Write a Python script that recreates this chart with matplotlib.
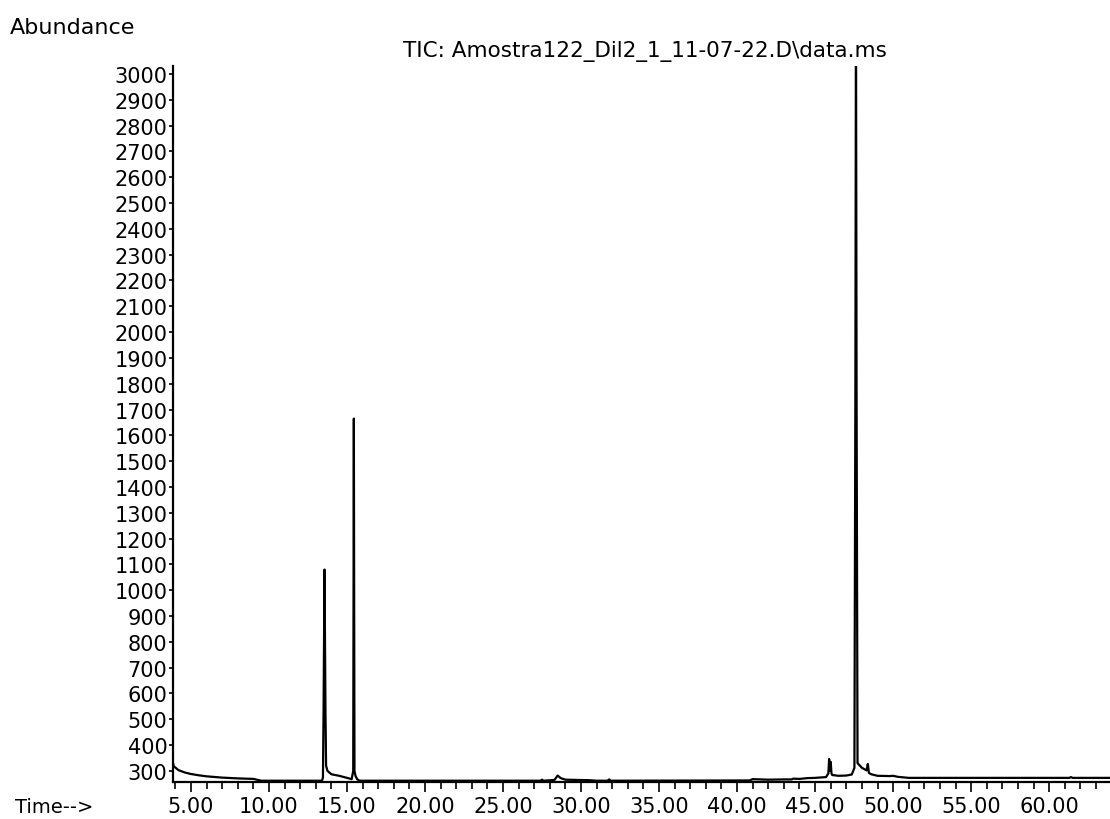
import matplotlib.pyplot as plt
from matplotlib.ticker import MultipleLocator

plt.rcParams['font.family'] = ['DejaVu Sans']

# retention time (min) and abundance
times = [3.85, 3.9, 4.2, 4.6, 5.0, 5.5, 6.0, 7.0, 8.0, 9.0, 9.5, 10.0,
         13.40, 13.46, 13.50, 13.56, 13.62, 13.66, 13.75, 14.0, 14.5, 15.0, 15.30,
         15.40, 15.44, 15.48, 15.55, 15.65, 15.80,
         27.4, 27.5, 27.6, 28.3, 28.5, 28.7, 29.0, 30.5, 31.0, 31.7, 31.8, 31.9, 32.0,
         40.8, 41.0, 42.0, 43.0, 43.5, 43.6, 44.0, 44.5, 45.0, 45.7,
         45.85, 45.90, 45.95, 46.00, 46.05, 46.10, 46.5, 47.0, 47.35, 47.52,
         47.58, 47.62, 47.66, 47.72, 48.0, 48.30, 48.38, 48.45, 48.6, 49.0, 49.8,
         50.0, 50.3, 51.0, 61.3, 61.4, 61.5, 63.9]
abundance = [330, 318, 303, 294, 288, 283, 279, 274, 271, 269, 262, 262,
             262, 275, 540, 1080, 540, 320, 300, 287, 281, 273, 268,
             300, 1665, 300, 280, 268, 262,
             262, 266, 262, 265, 282, 272, 266, 264, 262, 262, 267, 262, 262,
             263, 268, 266, 267, 267, 270, 269, 272, 273, 276,
             290, 346, 300, 335, 290, 284, 281, 282, 286, 312,
             1720, 3300, 1720, 330, 312, 302, 327, 292, 287, 281, 280,
             281, 277, 273, 273, 276, 273, 273]

title = "TIC: Amostra122_Dil2_1_11-07-22.D\\data.ms"
y_ticks = list(range(300, 3001, 100))
x_ticks = [5, 10, 15, 20, 25, 30, 35, 40, 45, 50, 55, 60]

fig = plt.figure(figsize=(11.1, 8.2), dpi=100)
ax = fig.add_axes([173 / 1110, 1 - 783 / 820, 1 - 173 / 1110, (783 - 67) / 820])

ax.plot(times, abundance, color='black', lw=1.6)

ax.set_xlim(3.85, 63.9)
ax.set_ylim(257, 3031)

ax.xaxis.set_minor_locator(MultipleLocator(1))
ax.set_xticks(x_ticks)
ax.set_xticklabels(["%.2f" % v for v in x_ticks])
ax.set_yticks(y_ticks)
ax.set_yticklabels([str(v) for v in y_ticks])

ax.tick_params(axis='x', which='major', length=7, width=1.2, pad=3, labelsize=15, direction='out')
ax.tick_params(axis='x', which='minor', length=5, width=1.2, direction='out')
ax.tick_params(axis='y', length=3, width=1.2, pad=1, labelsize=15, direction='out')

for side in ['top', 'right']:
    ax.spines[side].set_visible(False)
for side in ['left', 'bottom']:
    ax.spines[side].set_linewidth(1.6)

fig.text(645 / 1110, 1 - 52 / 820, title, ha='center', va='center', fontsize=15.5)
fig.text(10 / 1110, 1 - 28 / 820, "Abundance", ha='left', va='center', fontsize=16)
fig.text(15 / 1110, 1 - 808 / 820, "Time-->", ha='left', va='center', fontsize=14)

fig.savefig("out.png", dpi=100)
